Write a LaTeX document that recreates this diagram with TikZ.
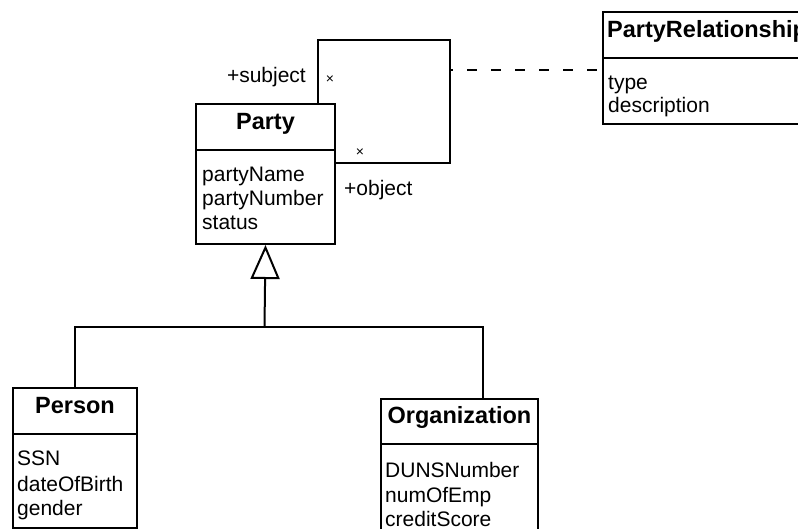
\documentclass[tikz,border=0pt]{standalone}
\usepackage{fontspec}
\setmainfont{Liberation Sans}
\usetikzlibrary{arrows.meta}
\newcommand\umlattrfont{\fontsize{21}{24}\selectfont}
\newcommand\umltitlefont{\fontsize{23.5}{26}\selectfont\bfseries}
\begin{document}
\begin{tikzpicture}[x=1pt,y=-1pt,
  line/.style={draw=black, line width=2pt},
  classbox/.style={line, fill=white, inner sep=0pt, anchor=north west},
  ctitle/.style={font=\umltitlefont, anchor=base, inner sep=0pt},
  cattr/.style={font=\umlattrfont, anchor=base west, inner sep=0pt},
  rolelabel/.style={font=\umlattrfont, inner sep=0pt},
  mult/.style={font=\fontsize{14}{14}\selectfont, inner sep=0pt}]
\useasboundingbox (0,0) rectangle (798,529);
\clip (0,0) rectangle (798,529);
\fill[white] (0,0) rectangle (798,529);

% class boxes
\node[classbox, minimum width=139pt, minimum height=46pt] (partyH) at (195,103) {};
\node[classbox, minimum width=139pt, minimum height=94pt] (partyB) at (195,149) {};
\node[classbox, minimum width=124pt, minimum height=46pt] (personH) at (12,387) {};
\node[classbox, minimum width=124pt, minimum height=94pt] (personB) at (12,433) {};
\node[classbox, minimum width=157pt, minimum height=45pt] (orgH) at (380,398) {};
\node[classbox, minimum width=157pt, minimum height=117pt] (orgB) at (380,443) {};
\node[classbox, minimum width=238pt, minimum height=46pt] (prH) at (602,11) {};
\node[classbox, minimum width=238pt, minimum height=66pt] (prB) at (602,57) {};

% self association
\coordinate (loopTR) at (450,40);
\coordinate (loopMid) at (450,70);
\draw[line] ([xshift=-18pt]partyH.north east) |- (loopTR) |- ([yshift=-14pt]partyB.north east);
\draw[line, dash pattern=on 10pt off 14pt, dash phase=7pt] (loopMid) -- (loopMid -| prB.west);

% generalization
\coordinate (genJ) at (264.5,327);
\draw[line] (personH.north) |- (genJ) -| ([xshift=23.5pt]orgH.north);
\draw[line, -{Triangle[open, length=34pt, width=29pt]}] (genJ) -- (partyB.south);

% titles
\node[ctitle] (partyT) at ([yshift=-27pt]partyH.north) {Party};
\node[ctitle] (personT) at ([yshift=-26pt]personH.north) {Person};
\node[ctitle] (orgT) at ([yshift=-25pt]orgH.north) {Organization};
\node[ctitle, anchor=base west] (prT) at ([xshift=5pt,yshift=-27pt]prH.north west) {PartyRelationship};

% attributes
\node[cattr] (pa1) at ([xshift=7pt,yshift=-33pt]partyB.north west) {partyName};
\node[cattr] (pa2) at ([xshift=7pt,yshift=-57pt]partyB.north west) {partyNumber};
\node[cattr] (pa3) at ([xshift=7pt,yshift=-81pt]partyB.north west) {status};

\node[cattr] (pe1) at ([xshift=5pt,yshift=-32pt]personB.north west) {SSN};
\node[cattr] (pe2) at ([xshift=5pt,yshift=-58pt]personB.north west) {dateOfBirth};
\node[cattr] (pe3) at ([xshift=5pt,yshift=-82pt]personB.north west) {gender};

\node[cattr] (o1) at ([xshift=5pt,yshift=-34pt]orgB.north west) {DUNSNumber};
\node[cattr] (o2) at ([xshift=5pt,yshift=-59pt]orgB.north west) {numOfEmp};
\node[cattr] (o3) at ([xshift=5pt,yshift=-83pt]orgB.north west) {creditScore};

\node[cattr] (r1) at ([xshift=6pt,yshift=-33pt]prB.north west) {type};
\node[cattr] (r2) at ([xshift=6pt,yshift=-56pt]prB.north west) {description};

% role labels and multiplicities
\node[rolelabel, anchor=base east] (subj) at (306,83) {+subject};
\node[rolelabel, anchor=base west] (obj) at (344,196) {+object};
\node[mult] (m1) at (330,80) {×};
\node[mult] (m2) at (360,153) {×};
\end{tikzpicture}
\end{document}
